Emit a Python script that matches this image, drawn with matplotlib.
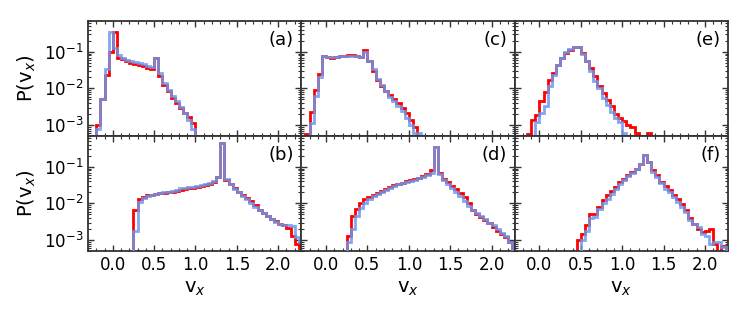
import numpy as np
import matplotlib
matplotlib.use("Agg")
import matplotlib.pyplot as plt
from matplotlib.ticker import AutoMinorLocator, LogLocator, NullFormatter

# ---------------- data (histograms, bin width 0.05) ----------------
BIN = 0.05
panel_labels = ["(a)", "(b)", "(c)", "(d)", "(e)", "(f)"]

a_red_start = -0.20
a_red = [1.0e-3, 5.0e-3, 0.024, 0.10, 0.35, 0.070, 0.062, 0.055, 0.051, 0.048,
         0.044, 0.040, 0.036, 0.033, 0.068, 0.0215, 0.0127, 0.0083, 0.0055,
         0.0040, 0.0029, 0.0021, 0.0017, 0.0011]
a_blue_start = -0.20
a_blue = [8e-4, 5.0e-3, 0.033, 0.35, 0.13, 0.080, 0.066, 0.059, 0.056, 0.054,
          0.050, 0.046, 0.042, 0.039, 0.068, 0.027, 0.014, 0.0093, 0.0061,
          0.0045, 0.0032, 0.0021, 0.0014, 0.0008]

b_red_start = 0.25
b_red = [0.0065, 0.013, 0.015, 0.0165, 0.0175, 0.018, 0.019, 0.0195, 0.020,
         0.021, 0.022, 0.024, 0.025, 0.026, 0.027, 0.029, 0.030, 0.032, 0.035,
         0.038, 0.053, 0.45, 0.043, 0.033, 0.026, 0.021, 0.017, 0.014, 0.0115,
         0.009, 0.0065, 0.0055, 0.0045, 0.0038, 0.0033, 0.0028, 0.0025, 0.0021,
         0.0013, 0.0008, 0.0006]
b_blue_start = 0.25
b_blue = [0.0018, 0.011, 0.014, 0.016, 0.0175, 0.018, 0.019, 0.020, 0.021,
          0.022, 0.024, 0.026, 0.027, 0.028, 0.029, 0.030, 0.031, 0.033, 0.036,
          0.040, 0.053, 0.44, 0.048, 0.033, 0.025, 0.020, 0.016, 0.013, 0.0105,
          0.008, 0.0068, 0.0055, 0.0045, 0.0038, 0.0032, 0.0028, 0.0025, 0.0025,
          0.0024, 0.0012, 0.0009]

c_red_start = -0.25
c_red = [5.5e-4, 0.0022, 0.0093, 0.025, 0.079, 0.072, 0.070, 0.072, 0.075,
         0.078, 0.080, 0.080, 0.078, 0.074, 0.115, 0.055, 0.030, 0.017, 0.012,
         0.0085, 0.0065, 0.0052, 0.0040, 0.0030, 0.0021, 0.0014, 0.0009]
c_blue_start = -0.20
c_blue = [0.0011, 0.0061, 0.021, 0.079, 0.073, 0.072, 0.073, 0.076, 0.078,
          0.079, 0.078, 0.076, 0.072, 0.100, 0.055, 0.033, 0.018, 0.0125,
          0.0085, 0.0058, 0.0045, 0.0033, 0.0024, 0.0016, 0.0010, 0.0006, 0.0006]

d_red_start = 0.25
d_red = [0.0013, 0.0046, 0.0072, 0.010, 0.013, 0.015, 0.017, 0.019, 0.022,
         0.025, 0.028, 0.031, 0.034, 0.037, 0.040, 0.043, 0.046, 0.050, 0.055,
         0.062, 0.080, 0.35, 0.070, 0.048, 0.038, 0.030, 0.025, 0.019, 0.015,
         0.010, 0.0065, 0.0053, 0.0043, 0.0035, 0.0029, 0.0023, 0.0018, 0.0015,
         0.0012, 0.0009]
d_blue_start = 0.25
d_blue = [0.0009, 0.002, 0.0045, 0.0075, 0.0105, 0.0135, 0.016, 0.0185, 0.021,
          0.024, 0.027, 0.030, 0.034, 0.037, 0.039, 0.042, 0.045, 0.049, 0.054,
          0.060, 0.070, 0.36, 0.065, 0.045, 0.034, 0.026, 0.020, 0.0155, 0.0115,
          0.0085, 0.0068, 0.0055, 0.0045, 0.0037, 0.0030, 0.0025, 0.0020,
          0.0016, 0.0013, 0.0009]

e_red_start = -0.15
e_red = [5.7e-4, 0.0014, 0.0019, 0.0045, 0.008, 0.0174, 0.0266, 0.045, 0.070,
         0.095, 0.116, 0.135, 0.137, 0.094, 0.058, 0.0365, 0.022, 0.012, 0.0075,
         0.0048, 0.0033, 0.0020, 0.0016, 0.0013, 0.0010, 0.0009, 0.0006, 0.0,
         0.0, 0.0006]
e_blue_start = -0.05
e_blue = [0.0012, 0.0021, 0.0033, 0.012, 0.024, 0.045, 0.070, 0.100, 0.123,
          0.134, 0.134, 0.090, 0.055, 0.030, 0.016, 0.0103, 0.0055, 0.0035,
          0.0022, 0.0016, 0.0012, 0.0006]

f_red_start = 0.45
f_red = [0.001, 0.0015, 0.0025, 0.005, 0.0053, 0.008, 0.0122, 0.0167, 0.0216,
         0.0283, 0.0388, 0.048, 0.059, 0.073, 0.090, 0.123, 0.218, 0.137, 0.081,
         0.059, 0.039, 0.030, 0.023, 0.0167, 0.0136, 0.0099, 0.0065, 0.0039,
         0.0028, 0.0020, 0.0017, 0.0018, 0.0020, 0.0008, 0.0, 0.0007]
f_blue_start = 0.50
f_blue = [0.001, 0.0018, 0.004, 0.0043, 0.0072, 0.010, 0.0136, 0.0186, 0.0255,
          0.035, 0.043, 0.057, 0.068, 0.086, 0.123, 0.21, 0.137, 0.073, 0.053,
          0.037, 0.0255, 0.020, 0.015, 0.011, 0.008, 0.0058, 0.0035, 0.0028,
          0.0023, 0.0015, 0.0013, 0.0008, 0.0009, 0.0009, 0.00065]

x_ticks = [0.0, 0.5, 1.0, 1.5, 2.0]
y_ticks = [1e-3, 1e-2, 1e-1]

# ---------------- figure ----------------
RED = "#ff0000"
BLUE = "#6b98ee"
FLOOR = 1e-7

fig, axes = plt.subplots(2, 3, figsize=(7.47, 3.12), dpi=100,
                         sharex=True, sharey=True)
fig.subplots_adjust(left=0.1178, right=0.9746, top=0.9327, bottom=0.1955,
                    wspace=0, hspace=0)

panels = [
    (axes[0, 0], a_red_start, a_red, a_blue_start, a_blue),
    (axes[1, 0], b_red_start, b_red, b_blue_start, b_blue),
    (axes[0, 1], c_red_start, c_red, c_blue_start, c_blue),
    (axes[1, 1], d_red_start, d_red, d_blue_start, d_blue),
    (axes[0, 2], e_red_start, e_red, e_blue_start, e_blue),
    (axes[1, 2], f_red_start, f_red, f_blue_start, f_blue),
]


def draw(ax, start, vals, color, alpha, z):
    v = np.array(vals, dtype=float)
    v[v <= 0] = FLOOR
    edges = start + BIN * np.arange(len(v) + 1)
    ax.stairs(v, edges, baseline=FLOOR, color=color, lw=2.0, alpha=alpha,
              zorder=z)


for (ax, rs, rv, bs, bv), lab in zip(panels, panel_labels):
    draw(ax, rs, rv, RED, 1.0, 2)
    draw(ax, bs, bv, BLUE, 0.85, 3)
    ax.set_yscale("log")
    ax.text(0.965, 0.835, lab, transform=ax.transAxes, ha="right",
            va="center", fontsize=13)
    ax.tick_params(which="both", direction="in", top=True, right=True,
                   labelsize=12, color="#333333")
    ax.tick_params(which="major", length=4.5, width=1.0)
    ax.tick_params(which="minor", length=2.5, width=0.8)
    for s in ax.spines.values():
        s.set_linewidth(1.3)
        s.set_color("#333333")

ax0 = axes[0, 0]
ax0.set_xlim(-0.3, 2.28)
ax0.set_ylim(5e-4, 0.7)
ax0.set_xticks(x_ticks)
ax0.xaxis.set_minor_locator(AutoMinorLocator(5))
ax0.set_yticks(y_ticks)
ax0.yaxis.set_minor_locator(LogLocator(base=10, subs=np.arange(2, 10)))
ax0.yaxis.set_minor_formatter(NullFormatter())

for i in range(2):
    axes[i, 0].set_ylabel(r"P(v$_x$)", fontsize=14, labelpad=4)
for j in range(3):
    axes[1, j].set_xlabel(r"v$_x$", fontsize=14, labelpad=4)

fig.savefig("out.png", dpi=100)
